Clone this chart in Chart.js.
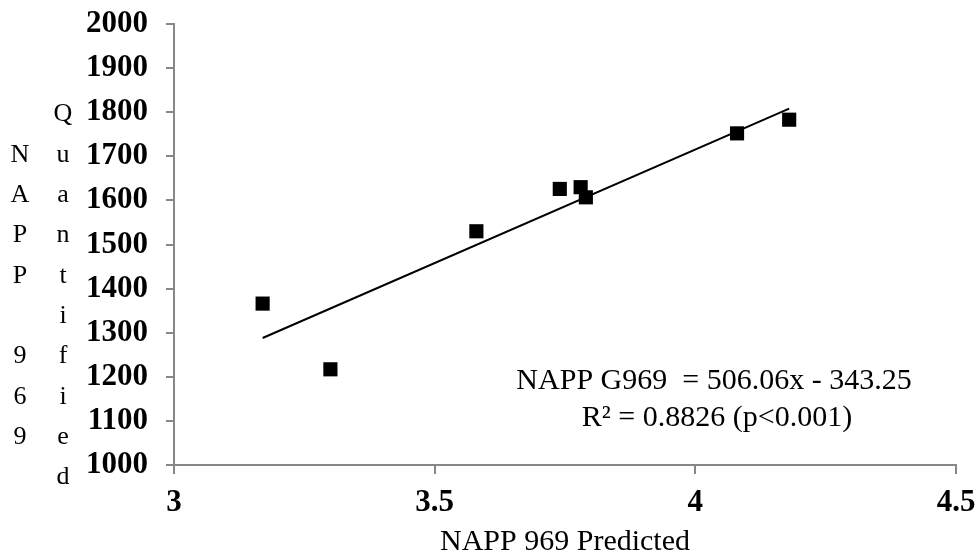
<!DOCTYPE html>
<html>
<head>
<meta charset="utf-8">
<script src="https://cdn.jsdelivr.net/npm/chart.js@4"></script>
<style>
  body { margin: 0; background: #fff; }
</style>
</head>
<body>
<canvas id="napp" width="978" height="557"></canvas>
<script>
// values
const predicted  = [3.17, 3.30, 3.58, 3.74, 3.78, 3.79, 4.08, 4.18];
const quantified = [1366, 1217, 1530, 1626, 1630, 1607, 1752, 1783];
// trendline end points as drawn
const trendX = [3.17, 4.18];
const trendY = [1288, 1808];
const xTicks = [3, 3.5, 4, 4.5];
const yTicks = [1000, 1100, 1200, 1300, 1400, 1500, 1600, 1700, 1800, 1900, 2000];
const yTitleCols = ["NAPP 969", "Quantified"];
const eqLines = ["NAPP G969  = 506.06x - 343.25", "R\u00b2 = 0.8826 (p<0.001)"];

const serif = "'Liberation Serif', 'Times New Roman', serif";
const axisGrey = "#878787";

// stacked y title + equation box
const textPlugin = {
  id: "texts",
  afterDraw(chart) {
    const ctx = chart.ctx;
    ctx.save();
    ctx.fillStyle = "#000";
    ctx.textAlign = "center";
    ctx.textBaseline = "middle";
    ctx.font = "26px " + serif;
    const colX = [20, 63];
    const step = 40.3;
    const mid = 296;
    yTitleCols.forEach((txt, i) => {
      const chars = txt.split("");
      const start = mid - (chars.length - 1) * step / 2;
      chars.forEach((c, j) => ctx.fillText(c, colX[i], start + j * step));
    });
    ctx.font = "30px " + serif;
    ctx.fillText(eqLines[0], 714, 381);
    ctx.fillText(eqLines[1], 717, 418);
    ctx.restore();
  }
};

new Chart(document.getElementById("napp"), {
  type: "scatter",
  data: {
    datasets: [
      {
        data: predicted.map((x, i) => ({ x: x, y: quantified[i] })),
        pointStyle: "rect",
        pointRadius: 10,
        pointHoverRadius: 10,
        borderWidth: 0,
        backgroundColor: "#000",
      },
      {
        data: trendX.map((x, i) => ({ x: x, y: trendY[i] })),
        showLine: true,
        pointRadius: 0,
        borderColor: "#000",
        borderWidth: 2,
      },
    ],
  },
  options: {
    responsive: false,
    animation: false,
    devicePixelRatio: 1,
    layout: { padding: { top: 24, right: 22, left: 0, bottom: 0 } },
    plugins: { legend: { display: false }, tooltip: { enabled: false } },
    scales: {
      x: {
        type: "linear",
        min: 3,
        max: 4.5,
        afterBuildTicks: (s) => { s.ticks = xTicks.map((v) => ({ value: v })); },
        afterFit: (s) => { s.height = 92; s.paddingLeft = 0; s.paddingRight = 0; },
        grid: { drawOnChartArea: false, tickLength: 9, color: axisGrey, lineWidth: 2 },
        border: { color: axisGrey, width: 2 },
        ticks: { color: "#000", padding: 10, callback: (v) => String(v), font: { family: serif, size: 31, weight: "bold" } },
        title: { display: true, text: "NAPP 969 Predicted", color: "#000", padding: { top: 4, bottom: -3 }, font: { family: serif, size: 30 } },
      },
      y: {
        min: 1000,
        max: 2000,
        afterBuildTicks: (s) => { s.ticks = yTicks.map((v) => ({ value: v })); },
        afterFit: (s) => { s.width = 174; s.paddingTop = 0; s.paddingBottom = 0; },
        grid: { drawOnChartArea: false, tickLength: 8, color: axisGrey, lineWidth: 2 },
        border: { color: axisGrey, width: 2 },
        ticks: { color: "#000", padding: 18, callback: (v) => String(v), font: { family: serif, size: 31, weight: "bold" } },
      },
    },
  },
  plugins: [textPlugin],
});
</script>
</body>
</html>
